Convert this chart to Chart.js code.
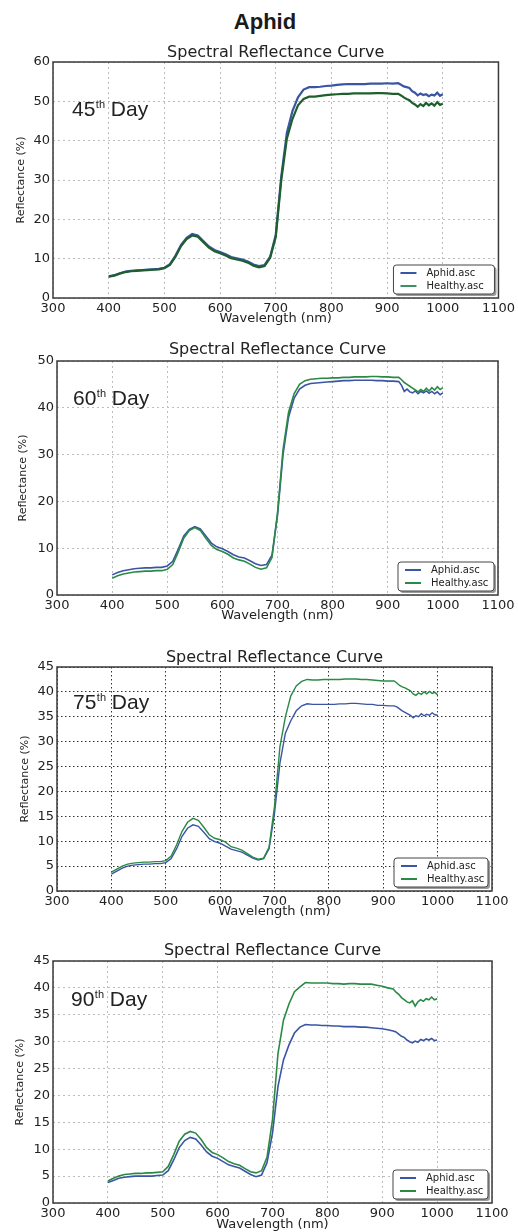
<!DOCTYPE html>
<html>
<head>
<meta charset="utf-8">
<script src="https://cdn.jsdelivr.net/npm/chart.js@4.4.0/dist/chart.umd.min.js"></script>
<style>
  body { margin: 0; background: #fff; }
  #wrap { position: relative; width: 518px; height: 1232px; overflow: hidden; background: #fff; }
  #wrap canvas { position: absolute; left: 0; }
  .main-title { position: absolute; left: 0; top: 9px; width: 530px; text-align: center;
    font: bold 22px "Liberation Sans", Arial, sans-serif; line-height: 26px; color: #1a1a1a; }
</style>
</head>
<body>
<div id="wrap">
  <div class="main-title">Aphid</div>
  <canvas id="c45" width="518" height="300" style="top:36px"></canvas>
  <canvas id="c60" width="518" height="296" style="top:336px"></canvas>
  <canvas id="c75" width="518" height="296" style="top:632px"></canvas>
  <canvas id="c90" width="518" height="304" style="top:928px"></canvas>
</div>
<script>
// wavelength (nm) shared by every curve
const wavelengths = [
  400, 410, 420, 430, 440, 450, 460, 470, 480, 490,
  500, 510, 520, 530, 540, 550, 560, 570, 580, 590,
  600, 610, 620, 630, 640, 650, 660, 670, 680, 690,
  700, 710, 720, 730, 740, 750, 760, 770, 780, 790,
  800, 810, 820, 830, 840, 850, 860, 870, 880, 890,
  900, 910, 920, 925, 930, 935, 940, 945, 950, 955,
  960, 965, 970, 975, 980, 985, 990, 995, 1000
];

const day45Aphid = [
  5.5, 5.8, 6.3, 6.7, 6.9, 7.0, 7.1, 7.2, 7.3, 7.4,
  7.7, 8.6, 10.8, 13.5, 15.3, 16.3, 15.9, 14.5, 13.1, 12.2,
  11.7, 11.1, 10.4, 10.1, 9.8, 9.3, 8.5, 8.1, 8.4, 10.5,
  16.0, 31.0, 42.0, 47.5, 51.0, 53.0, 53.6, 53.6, 53.7, 53.9,
  54.0, 54.2, 54.3, 54.4, 54.4, 54.4, 54.4, 54.5, 54.5, 54.5,
  54.6, 54.5, 54.6, 54.2, 53.8, 53.6, 53.4, 52.6, 52.2, 51.5,
  52.0, 51.6, 51.8, 51.3, 51.7, 51.5, 52.2, 51.4, 51.8
];
const day45Healthy = [
  5.4, 5.7, 6.2, 6.6, 6.8, 6.9, 7.0, 7.1, 7.2, 7.3,
  7.6, 8.4, 10.5, 13.2, 15.0, 15.9, 15.6, 14.2, 12.8, 11.9,
  11.4, 10.8, 10.1, 9.8, 9.5, 9.0, 8.2, 7.8, 8.1, 10.2,
  15.5, 30.0, 40.5, 45.5, 49.0, 50.6, 51.2, 51.2, 51.4, 51.6,
  51.7, 51.8, 51.9, 51.9, 52.0, 52.0, 52.0, 52.0, 52.1, 52.1,
  52.0, 51.9, 51.9, 51.5, 51.0, 50.6, 50.3, 49.6, 49.2, 48.6,
  49.3, 48.8, 49.6, 49.0, 49.5, 48.9, 49.8, 49.1, 49.4
];

const day60Aphid = [
  4.3, 4.8, 5.2, 5.4, 5.6, 5.7, 5.8, 5.8, 5.9, 5.9,
  6.2, 7.2, 9.8, 12.6, 14.0, 14.6, 14.1, 12.6, 11.1, 10.3,
  9.9, 9.3, 8.6, 8.1, 7.9, 7.3, 6.7, 6.3, 6.5, 8.5,
  17.0, 30.0, 38.0, 42.0, 44.0, 44.8, 45.2, 45.3, 45.4, 45.5,
  45.6, 45.7, 45.8, 45.8, 45.9, 45.9, 45.9, 45.9, 45.8, 45.8,
  45.7, 45.7, 45.6, 44.8, 43.5, 44.0, 43.4, 43.2, 43.6, 43.0,
  43.5, 43.2, 43.6, 43.1, 43.5, 43.0, 43.4, 42.8, 43.2
];
const day60Healthy = [
  3.6, 4.1, 4.5, 4.7, 4.9, 5.0, 5.1, 5.1, 5.2, 5.2,
  5.5, 6.5, 9.2, 12.2, 13.8, 14.4, 13.8, 12.1, 10.6, 9.7,
  9.3, 8.7, 7.9, 7.5, 7.2, 6.6, 5.9, 5.5, 5.8, 8.0,
  17.5, 31.0, 39.0, 43.0, 45.0, 45.8, 46.1, 46.2, 46.3, 46.3,
  46.4, 46.4, 46.5, 46.5, 46.6, 46.6, 46.6, 46.7, 46.7, 46.6,
  46.6, 46.5, 46.5, 46.0, 45.4, 45.0, 44.6, 44.2, 43.8, 43.4,
  43.9, 43.5, 44.2, 43.6, 44.3, 43.8, 44.5, 43.9, 44.3
];

const day75Aphid = [
  3.4, 4.0, 4.6, 5.0, 5.2, 5.3, 5.4, 5.4, 5.5, 5.5,
  5.7, 6.5, 8.5, 11.0, 12.6, 13.3, 13.0, 11.8, 10.5, 9.9,
  9.6, 9.0, 8.4, 8.1, 7.8, 7.2, 6.6, 6.2, 6.5, 8.5,
  15.6, 25.7, 31.7, 34.2, 36.2, 37.2, 37.6, 37.5, 37.5, 37.5,
  37.5, 37.5, 37.6, 37.6, 37.7, 37.7, 37.6, 37.5, 37.5, 37.3,
  37.3, 37.2, 37.2, 37.0, 36.6, 36.2, 35.9, 35.6, 35.3, 34.8,
  35.2, 35.0, 35.6, 35.2, 35.5, 35.3, 35.8, 35.4, 35.3
];
const day75Healthy = [
  3.8, 4.4, 5.0, 5.4, 5.6, 5.7, 5.8, 5.8, 5.9, 5.9,
  6.1, 7.0, 9.3, 12.0, 13.8, 14.6, 14.2, 12.8, 11.3, 10.6,
  10.3, 9.8, 8.9, 8.6, 8.2, 7.5, 6.8, 6.4, 6.6, 8.8,
  17.0, 29.0, 35.0, 39.2, 41.2, 42.1, 42.5, 42.4, 42.4, 42.5,
  42.5, 42.5, 42.5, 42.6, 42.6, 42.6, 42.5, 42.5, 42.4, 42.3,
  42.2, 42.2, 42.2, 41.8, 41.3, 41.0, 40.8, 40.5, 40.2, 39.6,
  39.3, 39.8, 39.5, 40.0, 39.6, 40.1, 39.7, 39.9, 39.4
];

const day90Aphid = [
  3.8, 4.2, 4.6, 4.8, 4.9, 5.0, 5.0, 5.0, 5.0, 5.1,
  5.2, 6.0, 8.0, 10.3, 11.6, 12.2, 11.9, 10.8, 9.5, 8.7,
  8.3, 7.7, 7.1, 6.8, 6.5, 5.9, 5.3, 4.9, 5.2, 7.5,
  13.0, 21.7, 26.6, 29.4, 31.6, 32.7, 33.2, 33.1, 33.1, 33.0,
  33.0, 32.9, 32.9, 32.8, 32.8, 32.8, 32.7, 32.7, 32.6, 32.5,
  32.4, 32.2, 32.0, 31.8, 31.4, 31.0, 30.8, 30.3, 30.0, 29.8,
  30.1, 29.9, 30.4, 30.2, 30.5, 30.3, 30.6, 30.2, 30.3
];
const day90Healthy = [
  4.1, 4.6, 5.0, 5.3, 5.4, 5.5, 5.5, 5.6, 5.6, 5.7,
  5.8, 6.8, 9.0, 11.5, 12.8, 13.3, 13.0, 11.8, 10.3, 9.4,
  9.0, 8.4, 7.7, 7.3, 7.0, 6.4, 5.8, 5.6, 6.0, 8.5,
  15.5, 27.8, 34.0, 37.0, 39.3, 40.2, 41.0, 40.9, 40.9, 40.9,
  40.9, 40.8, 40.8, 40.7, 40.8, 40.8, 40.7, 40.7, 40.7, 40.5,
  40.3, 40.0, 39.8, 39.2, 38.8, 38.2, 37.8, 37.4, 37.2, 37.6,
  36.6, 37.4, 37.8, 37.5, 38.0, 37.8, 38.3, 37.8, 38.0
];

const seriesNames = ['Aphid.asc', 'Healthy.asc'];
const dayNumbers = ['45', '60', '75', '90'];
const yMaxes = [60, 50, 45, 45];
const yStepSizes = [10, 10, 5, 5];

const FONT = '"DejaVu Sans", Verdana, sans-serif';
const BLUE = '#3a55a4';

// draws box frame, subplot title, "Nth Day" note and the legend inside the plot
const framePlugin = {
  id: 'frame',
  afterDatasetsDraw(chart, args, o) {
    const { ctx, chartArea: a } = chart;
    ctx.save();
    ctx.setLineDash([]);
    ctx.strokeStyle = '#3a3a3a';
    ctx.lineWidth = 1.5;
    ctx.strokeRect(a.left, a.top, a.right - a.left, a.bottom - a.top);

    ctx.fillStyle = '#222';
    ctx.font = '16px ' + FONT;
    ctx.textAlign = 'center';
    ctx.textBaseline = 'middle';
    ctx.fillText(o.title, (a.left + a.right) / 2, a.top - o.titleGap);

    // day note
    ctx.textAlign = 'left';
    ctx.textBaseline = 'alphabetic';
    let x = a.left + o.dayDx;
    const y = a.top + o.dayDy;
    ctx.font = '21px "Liberation Sans", Arial, sans-serif';
    ctx.fillText(o.day, x, y);
    x += ctx.measureText(o.day).width + 0.5;
    ctx.font = '11px "Liberation Sans", Arial, sans-serif';
    ctx.fillText('th', x, y - 8);
    x += ctx.measureText('th').width;
    ctx.font = '21px "Liberation Sans", Arial, sans-serif';
    ctx.fillText(' Day', x, y);

    // legend
    const w = o.legendW, h = 29;
    const lx = a.right - 4 - w, ly = a.bottom - 4 - h;
    ctx.fillStyle = '#9a9a9a';
    ctx.beginPath(); ctx.roundRect(lx + 2, ly + 2, w, h, 3); ctx.fill();
    ctx.fillStyle = '#fff';
    ctx.strokeStyle = '#444';
    ctx.lineWidth = 1;
    ctx.beginPath(); ctx.roundRect(lx, ly, w, h, 3); ctx.fill(); ctx.stroke();
    ctx.font = '10px ' + FONT;
    ctx.textBaseline = 'middle';
    chart.data.datasets.forEach((ds, i) => {
      const ry = ly + 8 + i * 13;
      ctx.strokeStyle = o.legendColors[i];
      ctx.lineWidth = 2;
      ctx.beginPath(); ctx.moveTo(lx + 7, ry); ctx.lineTo(lx + 23, ry); ctx.stroke();
      ctx.fillStyle = '#222';
      ctx.fillText(ds.label, lx + 33, ry);
    });
    ctx.restore();
  }
};

function toPoints(values) {
  return wavelengths.map((w, i) => ({ x: w, y: values[i] }));
}

function spectralChart(id, k, aphid, healthy, s) {
  const canvas = document.getElementById(id);
  const W = canvas.width, H = canvas.height;
  const [left, top, right, bottom] = s.area;
  const tickFont = { family: FONT, size: 13 };
  return new Chart(canvas, {
    type: 'line',
    data: {
      datasets: [
        { label: seriesNames[0], data: toPoints(aphid), borderColor: BLUE, borderWidth: s.lw, pointRadius: 0, tension: 0, order: 1 },
        { label: seriesNames[1], data: toPoints(healthy), borderColor: s.green, borderWidth: s.lw, pointRadius: 0, tension: 0, order: 0 }
      ]
    },
    options: {
      responsive: false,
      animation: false,
      layout: { padding: { left: 0, top: top, right: W - right, bottom: H - bottom - s.xh } },
      plugins: {
        legend: { display: false },
        tooltip: { enabled: false },
        frame: {
          title: 'Spectral Reflectance Curve', titleGap: s.titleGap,
          day: dayNumbers[k], dayDx: s.dayDx, dayDy: s.dayDy,
          legendW: s.legendW, legendColors: [BLUE, s.legendGreen]
        }
      },
      scales: {
        x: {
          type: 'linear', min: 300, max: 1100,
          ticks: { stepSize: 100, autoSkip: false, maxRotation: 0, padding: 3, color: '#222', font: tickFont, callback: v => String(v) },
          grid: { color: s.grid, lineWidth: 1, drawTicks: false },
          border: { display: false, dash: s.dash },
          title: { display: true, text: 'Wavelength (nm)', color: '#222', font: { family: FONT, size: 13 }, padding: { top: 0, bottom: 0 } },
          afterFit(scale) { scale.height = s.xh; }
        },
        y: {
          min: 0, max: yMaxes[k],
          ticks: { stepSize: yStepSizes[k], padding: 3, color: '#222', font: tickFont, callback: v => String(v) },
          grid: { color: s.grid, lineWidth: 1, drawTicks: false },
          border: { display: false, dash: s.dash },
          title: { display: true, text: 'Reflectance (%)', color: '#222', font: { family: FONT, size: 11 }, padding: { top: s.yTitlePad, bottom: 0 } },
          afterFit(scale) { scale.width = left; }
        }
      }
    },
    plugins: [framePlugin]
  });
}

spectralChart('c45', 0, day45Aphid, day45Healthy, {
  area: [53, 26, 499, 262], xh: 28.8, yTitlePad: 14.4, titleGap: 9, dayDx: 19, dayDy: 54,
  legendW: 101, green: '#1f5f2e', legendGreen: '#3f9066', grid: '#bdbdbd', dash: [2, 3], lw: 2.2
});
spectralChart('c60', 1, day60Aphid, day60Healthy, {
  area: [57, 25, 498, 259], xh: 28.8, yTitlePad: 16.4, titleGap: 11, dayDx: 16, dayDy: 44,
  legendW: 96, green: '#2a8a45', legendGreen: '#2a8a45', grid: '#bdbdbd', dash: [2, 3], lw: 1.6
});
spectralChart('c75', 2, day75Aphid, day75Healthy, {
  area: [57, 35, 492, 259], xh: 28.8, yTitlePad: 18.4, titleGap: 9, dayDx: 16, dayDy: 42,
  legendW: 94, green: '#2a8a45', legendGreen: '#2a8a45', grid: '#333', dash: [1.5, 2.5], lw: 1.4
});
spectralChart('c90', 3, day90Aphid, day90Healthy, {
  area: [53, 33, 492, 275], xh: 29, yTitlePad: 13.4, titleGap: 10, dayDx: 18, dayDy: 45,
  legendW: 95, green: '#2a8a45', legendGreen: '#2a8a45', grid: '#bdbdbd', dash: [2, 3], lw: 1.6
});
</script>
</body>
</html>
